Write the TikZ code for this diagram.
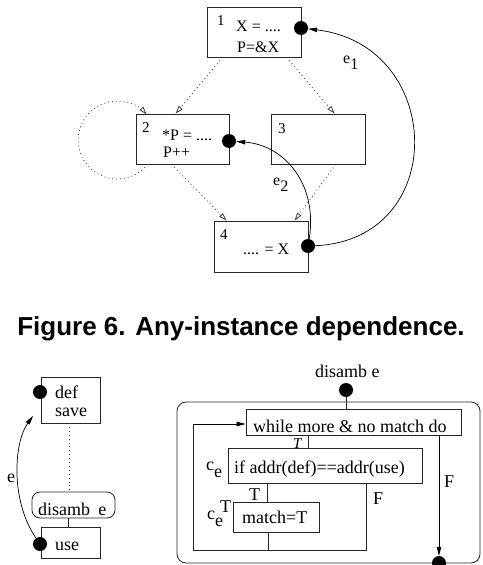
\documentclass[tikz,border=0pt]{standalone}
\usepackage{fontspec}
\setmainfont{Liberation Serif}
\newfontfamily\capfont{Liberation Sans}
\usetikzlibrary{arrows.meta}
\newcommand\lo[1]{\raisebox{-0.4em}{#1}}
\begin{document}
\begin{tikzpicture}[x=1pt,y=-1pt,
  box/.style={draw=black!85,line width=0.8pt,inner sep=0pt,minimum width=#1},
  dotnode/.style={circle,fill=black,inner sep=0pt,minimum size=14pt},
  dotline/.style={black!75,line width=0.8pt,dash pattern=on 0.9pt off 3pt,-{Triangle[open,length=8pt,width=5pt]}},
  arr/.style={line width=0.7pt,-{Triangle[length=9pt,width=4.5pt]}},
  ln/.style={black!85,line width=0.8pt},
  tt/.style={anchor=base west,inner sep=0pt,font=\fontsize{16}{18}\selectfont},
  tn/.style={anchor=base west,inner sep=0pt,font=\fontsize{15}{17}\selectfont},
  tb/.style={anchor=base west,inner sep=0pt,font=\fontsize{18}{20}\selectfont}]
\useasboundingbox (0,0) rectangle (482,565);
% ---------- top graph ----------
\node[box=94pt,minimum height=50pt] (b1) at (254,32) {};
\node[box=93pt,minimum height=50pt] (b2) at (182.5,139) {};
\node[box=94pt,minimum height=50pt] (b3) at (318,139) {};
\node[box=94pt,minimum height=51pt] (b4) at (261,246.5) {};
\node[tn] (n1) at (217,25) {1};
\node[tt] (t1a) at (236,31) {X = ....};
\node[tt] (t1b) at (237,52) {P=\&X};
\node[tn] (n2) at (142,132) {2};
\node[tt] (t2a) at (162,140) {*P = ....};
\node[tt] (t2b) at (163,157) {P++};
\node[tn] (n3) at (278,133) {3};
\node[tn] (n4) at (220,239) {4};
\node[tt] (t4a) at (243,254) {.... = X};
\node[dotnode] (d1) at (301,28) {};
\node[dotnode] (d2) at (229,141) {};
\node[dotnode] (d4) at (308,246) {};
\draw[dotline] ([xshift=16pt]b1.south west) -- ([xshift=40pt]b2.north west);
\draw[dotline] ([xshift=80pt]b1.south west) -- ([xshift=64pt]b3.north west);
\draw[dotline] ([xshift=36pt]b2.south west) -- ([xshift=13pt]b4.north west);
\draw[dotline] ([xshift=65pt]b3.south west) -- ([xshift=81pt]b4.north west);
\draw[dotline] ([xshift=12pt]b2.south west) arc[start angle=38.7,end angle=319,radius=39];
\draw[arr] (d4) .. controls (450,240) and (445,45) .. (d1);
\draw[arr] (d4) .. controls (318,185) and (285,145) .. (d2);
\node[tt] (e1) at (343,63) {e\lo{1}};
\node[tt] (e2) at (273,185) {e\lo{2}};
% ---------- caption ----------
\node[anchor=base,inner sep=0pt,font=\capfont\bfseries\fontsize{26}{30}\selectfont] (cap) at (241,335) {Figure 6. Any-instance dependence.};
% ---------- bottom left ----------
\node[box=59pt,minimum height=46pt] (def) at (70.5,400) {};
\node[tb] (tdef) at (55,398) {def};
\node[tb] (tsave) at (55,416) {save};
\node[draw=black!85,line width=0.8pt,rounded corners=8pt,minimum width=83pt,minimum height=26pt,inner sep=0pt] (dis) at (73.5,505) {};
\node[tb] (tdis) at (38,515) {disamb\hspace{0.45em}e};
\node[box=59pt,minimum height=31pt] (use) at (70.5,542.5) {};
\node[tb] (tuse) at (55,550) {use};
\node[dotnode] (ddef) at (40,392) {};
\node[dotnode] (duse) at (40,544) {};
\coordinate (etip) at (33,416);
\draw[black!75,line width=0.8pt,dash pattern=on 0.9pt off 3pt] (69,423) -- (69,492);
\draw[ln] (68,518) -- (68,527);
\draw[arr] (duse) .. controls (10,500) and (14,442) .. (etip);
\node[tb] (el) at (7,482) {e};
% ---------- bottom right ----------
\node[tb] (tdis2) at (315,377) {disamb\hspace{0.25em}e};
\node[dotnode] (d5) at (346,390) {};
\draw[ln,rounded corners=9pt] (177,402) rectangle (480,563);
\node[box=215pt,minimum height=26pt] (wh) at (353.5,422) {};
\node[tb] (twh) at (253,432) {while more \& no match do};
\node[box=194pt,minimum height=35pt] (if) at (325,465.5) {};
\node[tb] (tif) at (234,473) {if addr(def)==addr(use)};
\node[box=86pt,minimum height=30pt] (ma) at (276,517) {};
\node[tb] (tma) at (242,523) {match=T};
\node[dotnode] (d6) at (439,563) {};
\draw[ln] (d5) -- (346,409);
\draw[ln] (308,435) -- (308,448);
\draw[ln] (267,483) -- (267,502);
\draw[ln] (268,532) -- (268,550);
\draw[ln] (366,483) -- (366,550) -- (193,550) -- (193,424);
\draw[arr] (193,424) -- (wh.west |- 0,424);
\draw[arr] (439,435) -- (d6);
\node[tb,font=\itshape\fontsize{15}{17}\selectfont] (tT1) at (293,448) {T};
\node[tb] (tT2) at (249,500) {T};
\node[tb] (tF1) at (373,504) {F};
\node[tb] (tF2) at (444,487) {F};
\node[tb] (ce) at (206,470) {c\lo{e}};
\node[tb] (ceT) at (207,519) {c\lo{e}};
\node[tb] (ceTs) at (220,512) {T};
\end{tikzpicture}
\end{document}
